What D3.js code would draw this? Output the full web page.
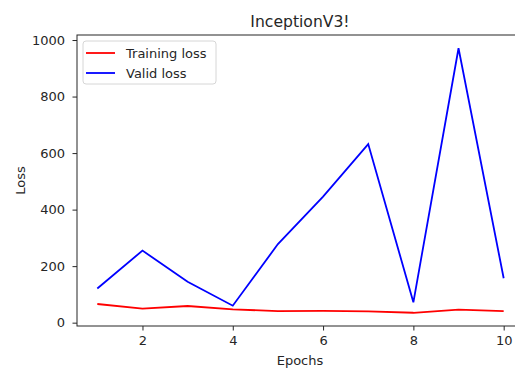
<!DOCTYPE html>
<meta charset="utf-8">
<script src="https://d3js.org/d3.v7.js"></script>
<style>
  body { margin: 0; background: #fff; }
  text { font-family: "DejaVu Sans", sans-serif; fill: #262626; }
</style>
<div id="chart"></div>
<script>

var epochs = [1, 2, 3, 4, 5, 6, 7, 8, 9, 10];
var trainLoss = [66, 50, 59, 47, 41, 42, 40, 35, 46, 41];
var validLoss = [121, 255, 145, 60, 278, 446, 632, 72, 971, 157];
var xTicks = [2, 4, 6, 8, 10];
var yTicks = [0, 200, 400, 600, 800, 1000];

var margin = {top: 35, right: -9, bottom: 43, left: 77},
    width = 515 - margin.left - margin.right,
    height = 369 - margin.top - margin.bottom;

var svg = d3.select("#chart")
  .append("svg")
    .attr("width", 515)
    .attr("height", 369)
  .append("g")
    .attr("transform", "translate(" + margin.left + "," + margin.top + ")");

// matplotlib style 5% padding around the data
var xPad = (d3.max(epochs) - d3.min(epochs)) * 0.05;
var x = d3.scaleLinear()
  .domain([d3.min(epochs) - xPad, d3.max(epochs) + xPad])
  .range([0, width]);

var allY = trainLoss.concat(validLoss);
var yPad = (d3.max(allY) - d3.min(allY)) * 0.05;
var y = d3.scaleLinear()
  .domain([d3.min(allY) - yPad, d3.max(allY) + yPad])
  .range([height, 0]);

var xAxis = svg.append("g")
  .attr("transform", "translate(0," + height + ")")
  .call(d3.axisBottom(x).tickValues(xTicks).tickFormat(d3.format("d"))
    .tickSize(4.5).tickPadding(5).tickSizeOuter(0));

var yAxis = svg.append("g")
  .call(d3.axisLeft(y).tickValues(yTicks).tickFormat(d3.format("d"))
    .tickSize(4.5).tickPadding(7.5).tickSizeOuter(0));

[xAxis, yAxis].forEach(function(a) {
  a.selectAll("text").attr("font-size", 13).style("font-family", "DejaVu Sans").attr("fill", "#262626");
  a.selectAll("line").attr("stroke", "#262626").attr("stroke-width", 1);
  a.select(".domain").remove();
});

// spines
svg.append("rect")
  .attr("x", 0).attr("y", 0)
  .attr("width", width).attr("height", height)
  .attr("fill", "none")
  .attr("stroke", "#262626")
  .attr("stroke-width", 1);

var line = d3.line()
  .x(function(d, i) { return x(epochs[i]); })
  .y(function(d) { return y(d); });

svg.append("path")
  .datum(trainLoss)
  .attr("d", line)
  .attr("fill", "none")
  .attr("stroke", "#ff0000")
  .attr("stroke-width", 1.8);

svg.append("path")
  .datum(validLoss)
  .attr("d", line)
  .attr("fill", "none")
  .attr("stroke", "#0000ff")
  .attr("stroke-width", 1.8);

// title and labels
svg.append("text")
  .attr("x", 223)
  .attr("y", -8)
  .attr("text-anchor", "middle")
  .attr("font-size", 15.6)
  .text("InceptionV3!");

svg.append("text")
  .attr("x", 223)
  .attr("y", 330)
  .attr("text-anchor", "middle")
  .attr("font-size", 13)
  .text("Epochs");

svg.append("text")
  .attr("transform", "translate(" + (25 - margin.left) + "," + (height / 2) + ") rotate(-90)")
  .attr("text-anchor", "middle")
  .attr("font-size", 13)
  .text("Loss");

// legend
var legend = svg.append("g").attr("transform", "translate(6,6)");
legend.append("rect")
  .attr("width", 133).attr("height", 43)
  .attr("rx", 3)
  .attr("fill", "#fff").attr("fill-opacity", 0.8)
  .attr("stroke", "#d6d6d6");

var items = [
  {label: "Training loss", color: "#ff0000"},
  {label: "Valid loss", color: "#0000ff"}
];
items.forEach(function(d, i) {
  var g = legend.append("g").attr("transform", "translate(0," + (12 + i * 20) + ")");
  g.append("line")
    .attr("x1", 3).attr("x2", 32)
    .attr("stroke", d.color).attr("stroke-width", 1.8);
  g.append("text")
    .attr("x", 43).attr("y", 4.5)
    .attr("font-size", 13)
    .text(d.label);
});

</script>
